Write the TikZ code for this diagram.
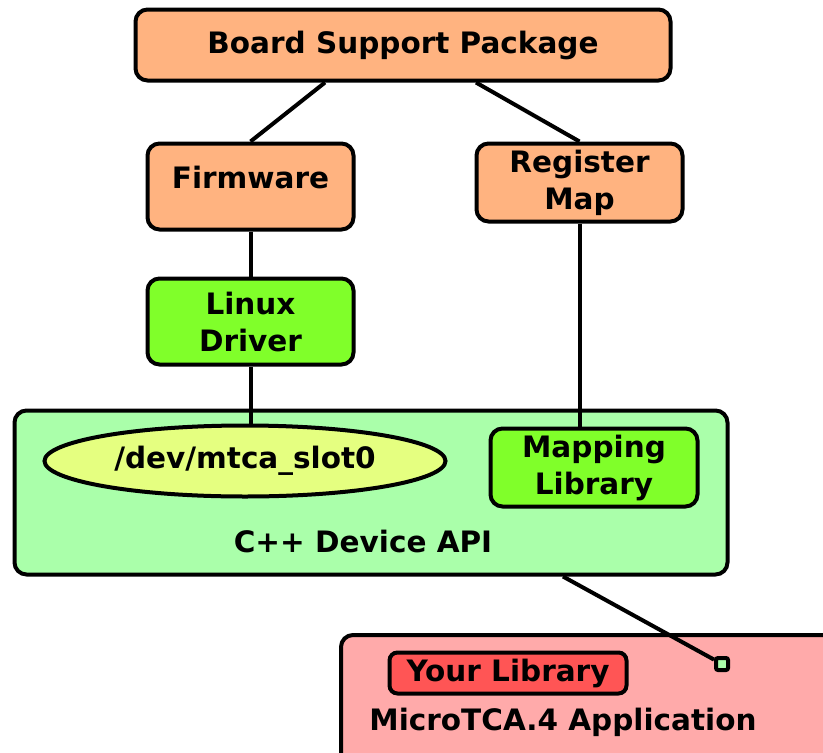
\documentclass[tikz,border=0pt]{standalone}
\usepackage{fontspec}
\setmainfont{DejaVu Sans}
\usetikzlibrary{shapes.geometric}

\definecolor{bspOrange}{HTML}{FFB380}
\definecolor{drvGreen}{HTML}{80FF2A}
\definecolor{apiGreen}{HTML}{AAFFAA}
\definecolor{devYellow}{HTML}{E5FF80}
\definecolor{appPink}{HTML}{FFAAAA}
\definecolor{libRed}{HTML}{FF5555}

\begin{document}
\begin{tikzpicture}[x=1pt, y=-1pt, line width=4pt,
		every node/.style={rectangle, rounded corners=12pt, draw, align=center,
			font=\bfseries\fontsize{29.5}{37}\selectfont},
		txt/.style={draw=none, fill=none}]
		\useasboundingbox (0,0) rectangle (823,753);

		\node[fill=bspOrange, minimum width=535, minimum height=71] (bsp) at (403,45) {Board Support Package};

		\node[fill=bspOrange, minimum width=206, minimum height=86, text depth=19pt] (firmware) at (250.5,186.5) {Firmware};
		\node[fill=bspOrange, minimum width=206, minimum height=78] (regMap) at (579.5,182.5) {Register\\ Map};

		\node[fill=drvGreen, minimum width=206, minimum height=86] (linuxDriver) at (250.5,321.5) {Linux\\ Driver};

		\node[fill=apiGreen, minimum width=713, minimum height=164] (deviceApi) at (371,492.5) {};
		\node[ellipse, fill=devYellow, minimum width=401, minimum height=71] (devFile) at (245,461) {/dev/mtca\_slot0};
		\node[fill=drvGreen, minimum width=207, minimum height=78] (mappingLib) at (594,467.5) {Mapping\\ Library};
		\node[txt] (deviceApiText) at (363,541) {C++ Device API};

		\node[fill=appPink, minimum width=494, minimum height=130] (app) at (588,700) {};
		\node[fill=libRed, rounded corners=8pt, minimum width=237, minimum height=41, inner sep=1pt] (yourLib) at (508,673) {Your Library};
		\node[txt] (appText) at (563,722) {MicroTCA.4 Application};
		\node[fill=apiGreen, rounded corners=2pt, minimum size=12, inner sep=0pt] (socket) at (722,664) {};

		\draw ([xshift=-78]bsp.south) -- (firmware.north);
		\draw ([xshift=73]bsp.south) -- (regMap.north);

		\draw (firmware) -- (linuxDriver);
		\draw (linuxDriver.south) -- (linuxDriver.south |- devFile.north);

		\draw (regMap.south) -- (regMap.south |- mappingLib.north);

		\draw ([xshift=192]deviceApi.south) -- (socket);
	\end{tikzpicture}
\end{document}
